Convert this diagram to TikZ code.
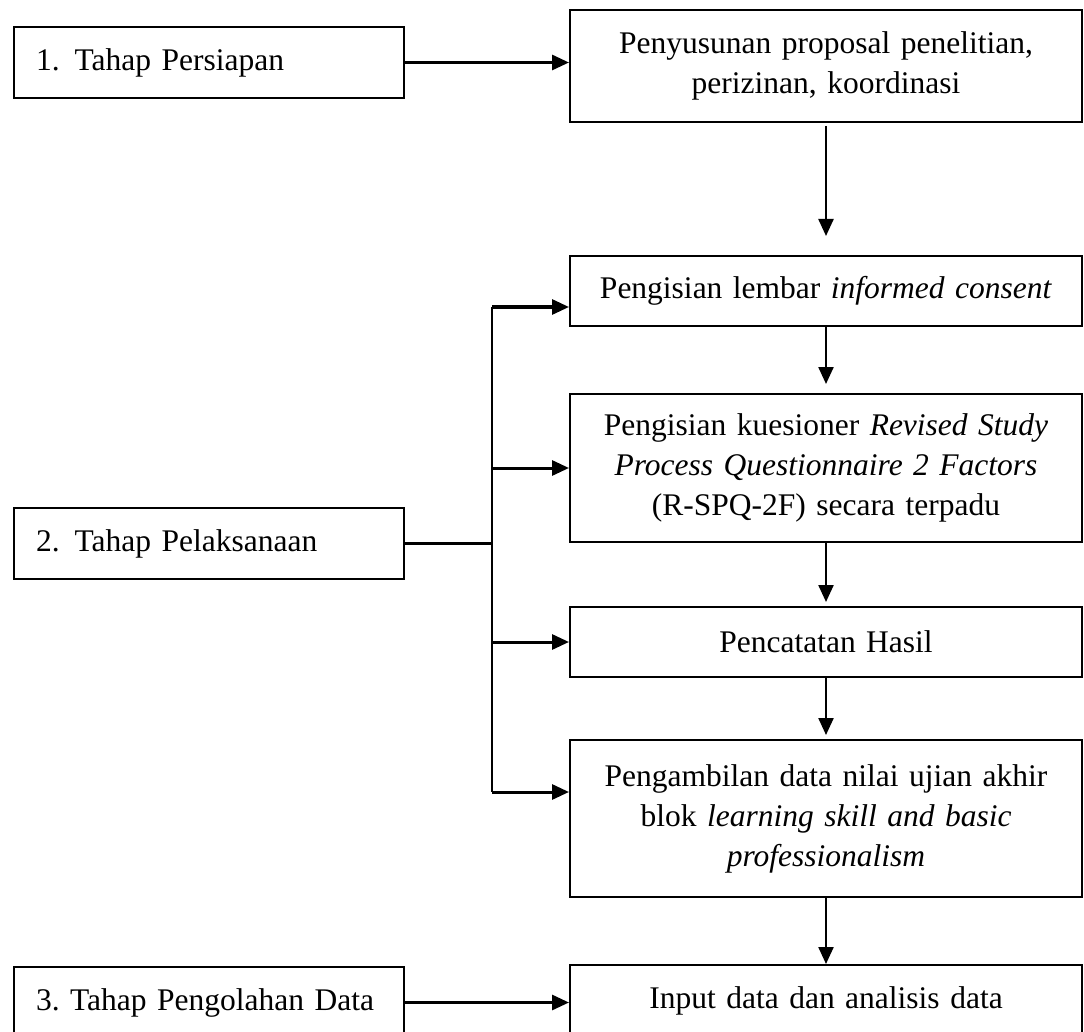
\documentclass[tikz,border=0pt]{standalone}
\usepackage{fontspec}
\setmainfont{Liberation Serif}
\usetikzlibrary{arrows.meta}
\frenchspacing
\begin{document}
\begin{tikzpicture}[x=1pt,y=-1pt,
  txt/.style={font=\fontsize{31.5}{40}\selectfont},
  lbox/.style={txt, draw, line width=2pt, minimum width=390pt, minimum height=71pt,
    text width=346pt, align=left, inner xsep=22pt, inner ysep=0pt},
  rbox/.style={txt, draw, line width=2pt, minimum width=512pt, text width=490pt,
    inner xsep=11pt, inner ysep=0pt, align=center},
  conn/.style={line width=2.2pt},
  arr/.style={line width=3pt, -{Triangle[length=17pt,width=15pt]}},
  varr/.style={line width=2.3pt, -{Triangle[length=17pt,width=15pt]}}
]
\useasboundingbox (0,0) rectangle (1084,1032);

\node[lbox] (t1) at (209,62.5) {\mbox{1.\hspace{15pt}Tahap Persiapan}};
\node[lbox] (t2) at (209,543.5) {\mbox{2.\hspace{15pt}Tahap Pelaksanaan}};
\node[lbox] (t3) at (209,1002.5) {\mbox{3. Tahap Pengolahan Data}};

\node[rbox, minimum height=112pt] (p1) at (826,66) {Penyusunan proposal penelitian,\\ perizinan, koordinasi};
\node[rbox, minimum height=70pt] (p2) at (826,291) {Pengisian lembar \textit{informed consent}};
\node[rbox, minimum height=148pt] (p3) at (826,468) {Pengisian kuesioner \textit{Revised Study}\\ \textit{Process Questionnaire 2 Factors}\\ (R-SPQ-2F) secara terpadu};
\node[rbox, minimum height=70pt] (p4) at (826,642) {Pencatatan Hasil};
\node[rbox, minimum height=157pt] (p5) at (826,818.5) {Pengambilan data nilai ujian akhir\\ blok \textit{learning skill and basic}\\ \textit{professionalism}};
\node[rbox, minimum height=71pt] (p6) at (826,1000.5) {Input data dan analisis data};

\coordinate (j) at (492,543.5);
\coordinate (jt) at (492,307);
\coordinate (jb) at (492,792);

\draw[arr] (t1.east) -- (t1.east -| p1.west);
\draw[conn] (t2.east) -- (j);
\draw[conn] (jt) -- (jb);
\draw[arr] (jt) -- (jt -| p2.west);
\draw[arr] (p3.west -| j) -- (p3.west);
\draw[arr] (p4.west -| j) -- (p4.west);
\draw[arr] (jb) -- (jb -| p5.west);
\draw[arr] (t3.east) -- (t3.east -| p6.west);

\draw[varr] ([yshift=-3pt]p1.south) -- ([yshift=19pt]p2.north);
\draw[varr] (p2.south) -- ([yshift=9pt]p3.north);
\draw[varr] (p3.south) -- ([yshift=4pt]p4.north);
\draw[varr] (p4.south) -- ([yshift=4pt]p5.north);
\draw[varr] (p5.south) -- (p6.north);
\end{tikzpicture}
\end{document}
